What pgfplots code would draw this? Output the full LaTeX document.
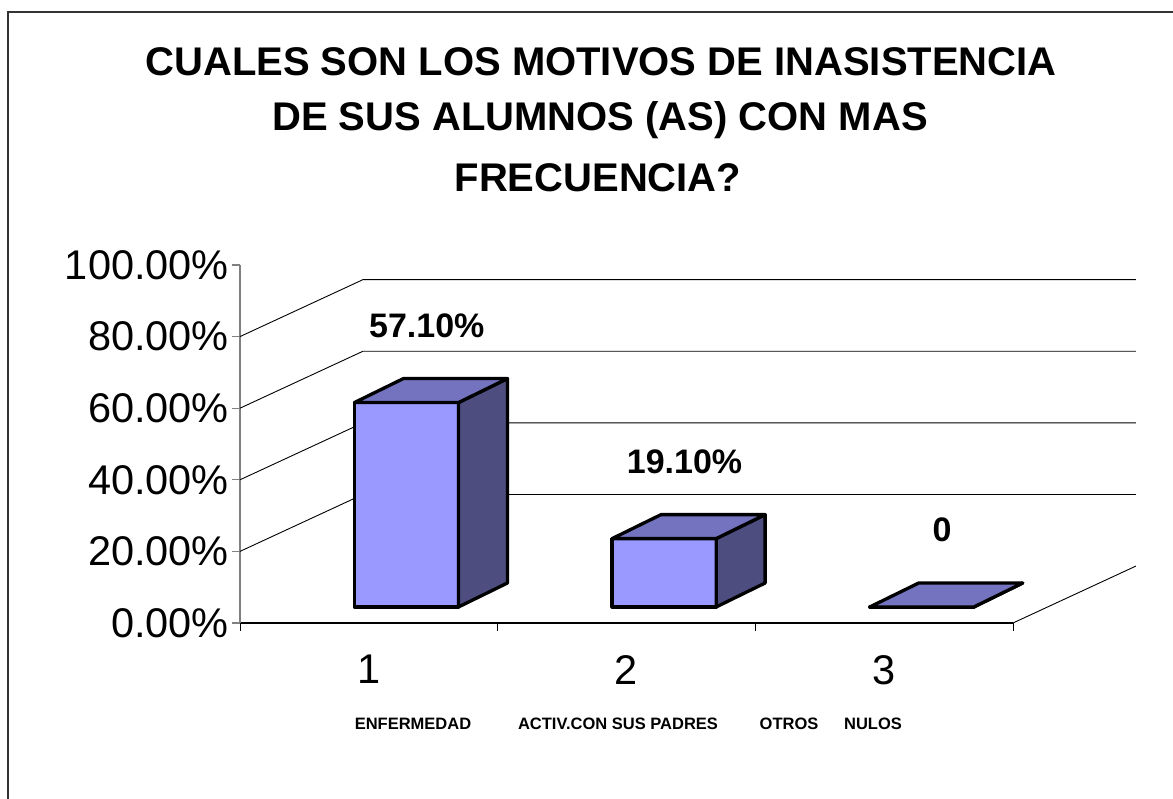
\documentclass[border=0pt]{standalone}
\usepackage{fontspec}
\setmainfont{Liberation Sans}
\usepackage{pgfplots}
\usepackage{pgfplotstable}
\pgfplotsset{compat=1.18}

\definecolor{barfront}{HTML}{9999FF}
\definecolor{bartop}{HTML}{7373BF}
\definecolor{barside}{HTML}{4D4D80}
\definecolor{framec}{HTML}{333333}
\definecolor{yaxisc}{HTML}{808080}

\pgfplotstableread{
x v lab
1 57.1 {57.10\%}
2 19.1 {19.10\%}
3 0 0
}\motivos

% fake 3d geometry, axis units
\def\dx{0.146}
\def\dy{4.47}
\def\hw{0.202}
\def\ddx{0.190}
\def\ddy{6.7}
\def\wallx{0.477}
\def\wally{15.9}

\begin{document}
\begin{tikzpicture}[x=1pt,y=1pt]
\begin{axis}[
  at={(240pt,176pt)}, anchor=south west,
  scale only axis, width=773pt, height=358pt,
  xmin=0.5, xmax=3.5, ymin=0, ymax=100,
  clip=false,
  axis x line*=bottom, axis y line*=left,
  x axis line style={black, line width=1.2pt},
  y axis line style={yaxisc, line width=1.5pt},
  ytick={0,20,...,100},
  yticklabels={0.00\%,20.00\%,40.00\%,60.00\%,80.00\%,100.00\%},
  xtick={1,2,3}, xticklabels={1,2,3},
  minor xtick={0.5,1.5,2.5,3.5},
  tick align=outside,
  major tick length=8pt, minor tick length=8pt,
  major x tick style={draw=none},
  minor x tick style={black, line width=1pt},
  major y tick style={yaxisc, line width=1.2pt},
  tick label style={font=\fontsize{41.5}{41.5}\selectfont},
  yticklabel style={inner sep=0pt, xshift=-3pt},
  xticklabel style={inner sep=0pt, yshift=-24pt},
  bar3d/.style={draw=black, line width=3.3pt, line join=round},
]
% side wall and back wall gridlines
\pgfplotsinvokeforeach{20,40,60,80}{
  \pgfmathsetmacro\gb{#1+\wally}
  \pgfmathsetmacro\gl{0.5+\wallx}
  \pgfmathsetmacro\gr{3.5+\wallx}
  \addplot[black, line width=0.9pt] coordinates {(0.5,#1) (\gl,\gb) (\gr,\gb)};
}
\pgfmathsetmacro\fr{3.5+\wallx}
\addplot[black, line width=0.9pt] coordinates {(3.5,0) (\fr,\wally)};

% bars: front, side, top
\pgfplotsinvokeforeach{0,1,2}{
  \pgfplotstablegetelem{#1}{x}\of\motivos \pgfmathsetmacro\cx{\pgfplotsretval}
  \pgfplotstablegetelem{#1}{v}\of\motivos \pgfmathsetmacro\cv{\pgfplotsretval}
  \pgfmathsetmacro\xl{\cx+\dx-\hw}
  \pgfmathsetmacro\xr{\cx+\dx+\hw}
  \pgfmathsetmacro\xlb{\xl+\ddx}
  \pgfmathsetmacro\xrb{\xr+\ddx}
  \pgfmathsetmacro\yb{\dy}
  \pgfmathsetmacro\yt{\dy+\cv}
  \pgfmathsetmacro\ybb{\dy+\ddy}
  \pgfmathsetmacro\ytb{\dy+\ddy+\cv}
  \addplot[bar3d, fill=barfront] coordinates {(\xl,\yb) (\xr,\yb) (\xr,\yt) (\xl,\yt)} --cycle;
  \addplot[bar3d, fill=barside] coordinates {(\xr,\yb) (\xrb,\ybb) (\xrb,\ytb) (\xr,\yt)} --cycle;
  \addplot[bar3d, fill=bartop] coordinates {(\xl,\yt) (\xr,\yt) (\xrb,\ytb) (\xlb,\ytb)} --cycle;
}

% value labels
\addplot[draw=none, mark=none, nodes near coords, point meta=explicit symbolic,
  every node near coord/.append style={font=\bfseries\fontsize{34}{34}\selectfont,
    anchor=center, xshift=58pt, yshift=93pt}]
  table[x=x, y=v, meta=lab] {\motivos};
\end{axis}

% title
\begin{scope}[every node/.style={font=\bfseries\fontsize{40}{40}\selectfont}]
\node at (601,737) {CUALES SON LOS MOTIVOS DE INASISTENCIA};
\node at (600,679) {DE SUS ALUMNOS (AS) CON MAS};
\node at (598,621) {FRECUENCIA?};
\end{scope}

% category names under the axis
\begin{scope}[every node/.style={font=\bfseries\fontsize{16.5}{16.5}\selectfont}]
\node at (413,75) {ENFERMEDAD};
\node at (618,75) {ACTIV.CON SUS PADRES};
\node at (789,75) {OTROS};
\node at (873,75) {NULOS};
\end{scope}

% chart frame
\draw[framec, line width=2pt] (8,-20) -- (8,787) -- (1200,787);

\pgfresetboundingbox
\path (0,0) rectangle (1173,799);
\end{tikzpicture}
\end{document}
